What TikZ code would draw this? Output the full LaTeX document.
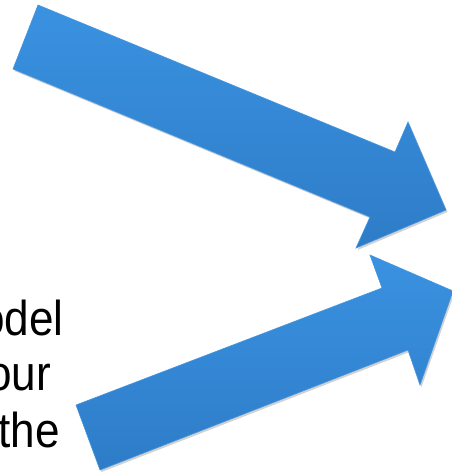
\documentclass[tikz,border=0pt]{standalone}
\usepackage{fontspec}
\setmainfont{Liberation Sans}
\usetikzlibrary{shadows}
\definecolor{arrowlight}{RGB}{58,146,224}
\definecolor{arrowdark}{RGB}{46,124,200}
\definecolor{arrowedge}{RGB}{66,150,226}
\tikzset{
  bigarrow/.style={draw=arrowedge, line width=0.6pt, line join=miter, top color=arrowlight, bottom color=arrowdark, shading angle=0,
    drop shadow={shadow xshift=1.5pt, shadow yshift=-2pt, fill=black, opacity=0.18}},
  label/.style={anchor=base east, inner sep=0pt, font=\fontsize{49}{56}\selectfont, text=black}
}
\newcommand{\narrow}[1]{\scalebox{0.9}[1]{#1}}
\begin{document}
\begin{tikzpicture}[x=1pt,y=-1pt]
\path[use as bounding box, fill=white] (0,0) rectangle (452,475);
\begin{scope}
\clip (0,0) rectangle (452,475);
% text (clipped at left, as in the reference)
\node[label] (t1) at (64,335) {\narrow{odel}};
\node[label] (t2) at (51,390) {\narrow{our}};
\node[label] (t3) at (60,447) {\narrow{the}};
% top arrow
\path[bigarrow] (38,5) coordinate (a1) -- (395,152) -- (408,122) -- (446,210) coordinate (a1tip) -- (356,248) -- (370,217) -- (13,69) -- cycle;
% bottom arrow
\path[bigarrow] (76,405) coordinate (b1) -- (382,288) -- (370,255) -- (453,291) coordinate (b1tip) -- (420,385) -- (408,350) -- (100,470) -- cycle;
\end{scope}
\end{tikzpicture}
\end{document}
